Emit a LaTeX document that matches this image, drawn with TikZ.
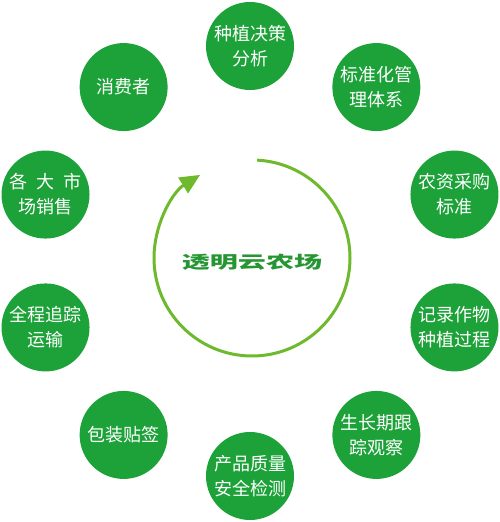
\documentclass[tikz,border=0pt]{standalone}
\usepackage{fontspec}
\newfontfamily\cjk{Noto Sans CJK SC}
\usetikzlibrary{arrows.meta, calc}
\definecolor{farmgreen}{RGB}{28, 162, 56}
\definecolor{looplime}{RGB}{110, 185, 45}
\definecolor{titlegreen}{RGB}{38, 150, 50}
\tikzset{
  stage/.style={circle, fill=farmgreen, minimum size=88pt, inner sep=0pt,
                text=white, align=center, font=\cjk\fontsize{18}{25}\selectfont},
  cyclearrow/.style={-{Triangle[length=20pt, width=18pt]}, line width=3pt, color=looplime},
  farmtitle/.style={font=\cjk\bfseries\fontsize{17}{20}\selectfont, text=titlegreen,
                    xscale=1.65, transform shape},
}

\begin{document}
\begin{tikzpicture}[x=1pt, y=1pt]
  \useasboundingbox (0,0) rectangle (500,522);
  \coordinate (hub) at (250,261);
  \coordinate (ring) at (252,264);
  % ten stages round the ring
  \node[stage] (decide)  at ($(hub)+(90:215)$)   {种植决策\\分析};
  \node[stage] (norm)    at ($(hub)+(54:215)$)   {标准化管\\理体系};
  \node[stage] (supply)  at ($(hub)+(18:215)$)   {农资采购\\标准};
  \node[stage] (record)  at ($(hub)+(-18:215)$)  {记录作物\\种植过程};
  \node[stage] (watch)   at ($(hub)+(-54:215)$)  {生长期跟\\踪观察};
  \node[stage] (inspect) at ($(hub)+(-90:215)$)  {产品质量\\安全检测};
  \node[stage] (pack)    at ($(hub)+(-126:215)$) {包装贴签};
  \node[stage] (ship)    at ($(hub)+(-162:215)$) {全程追踪\\运输};
  \node[stage] (market)  at ($(hub)+(162:215)$)  {各\hspace{0.5em}大\hspace{0.5em}市\\场销售};
  \node[stage] (buyer)   at ($(hub)+(126:215)$)  {消费者};
  % centre
  \node[farmtitle] (title) at (252,260) {透明云农场};
  \coordinate (arcstart) at ($(ring)+(87:98)$);
  \draw[cyclearrow] (arcstart) arc[start angle=87, end angle=-238, radius=98];
\end{tikzpicture}
\end{document}
